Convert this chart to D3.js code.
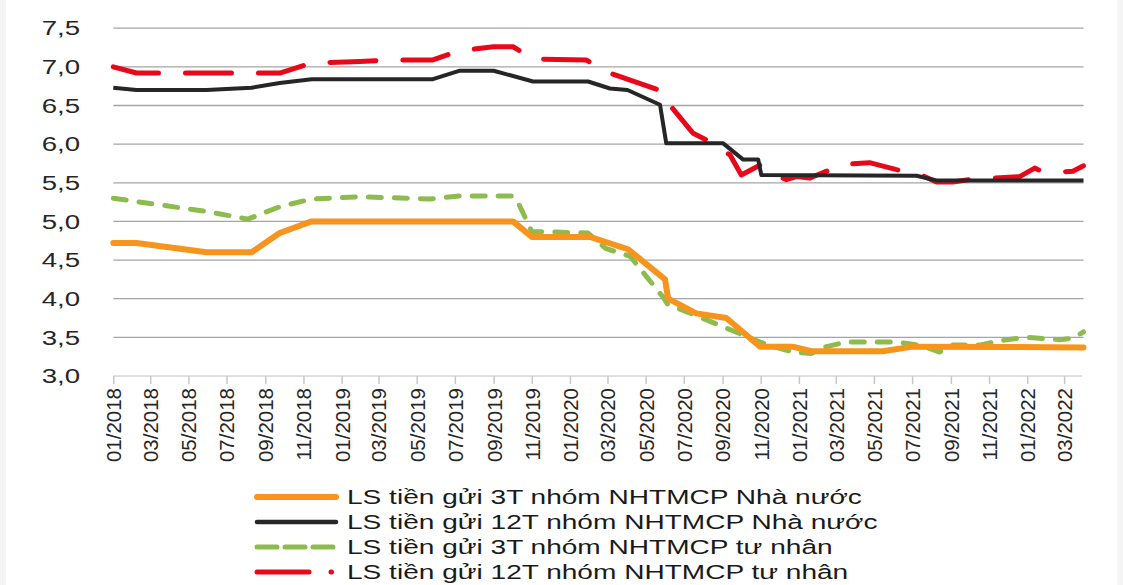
<!DOCTYPE html>
<html><head><meta charset="utf-8">
<script src="https://cdn.jsdelivr.net/npm/d3@7"></script>
<style>
html,body{margin:0;padding:0;background:#fff;}
svg{display:block;font-family:"Liberation Sans",Arial,sans-serif;}
</style></head>
<body>
<svg id="chart" width="1123" height="585"></svg>
<script>
// ---------------- DATA ----------------
const seriesNames = [
  "LS tiền gửi 3T nhóm NHTMCP Nhà nước",
  "LS tiền gửi 12T nhóm NHTMCP Nhà nước",
  "LS tiền gửi 3T nhóm NHTMCP tư nhân",
  "LS tiền gửi 12T nhóm NHTMCP tư nhân"
];
const state3Dates = ["2018-01-01","2018-02-07","2018-05-30","2018-08-10","2018-09-24","2018-11-14","2019-10-02","2019-11-01","2020-02-02","2020-04-03","2020-06-01","2020-06-06","2020-07-21","2020-09-07","2020-10-31","2020-12-22","2021-01-21","2021-05-15","2021-07-02","2022-04-01"];
const state3Values = [4.72,4.72,4.60,4.60,4.85,5.00,5.00,4.80,4.80,4.64,4.25,4.00,3.81,3.75,3.38,3.38,3.32,3.32,3.38,3.37];

const state12Dates = ["2018-01-01","2018-02-07","2018-05-30","2018-08-10","2018-09-24","2018-11-14","2019-05-27","2019-07-09","2019-09-01","2019-11-03","2020-01-30","2020-03-05","2020-04-02","2020-05-24","2020-06-03","2020-09-02","2020-10-04","2020-10-28","2020-11-02","2021-07-08","2021-08-09","2022-04-01"];
const state12Values = [6.73,6.70,6.70,6.73,6.79,6.84,6.84,6.95,6.95,6.81,6.81,6.72,6.70,6.51,6.01,6.01,5.80,5.80,5.60,5.59,5.53,5.53];

const private3Dates = ["2018-01-01","2018-03-11","2018-05-30","2018-08-04","2018-09-24","2018-11-14","2019-01-30","2019-05-22","2019-07-09","2019-09-30","2019-10-08","2019-11-01","2020-01-30","2020-02-27","2020-04-06","2020-05-30","2020-06-05","2020-07-21","2020-09-07","2020-10-31","2020-11-21","2020-12-23","2021-01-21","2021-02-14","2021-03-18","2021-06-06","2021-07-13","2021-08-14","2021-09-04","2021-10-17","2021-11-29","2021-12-31","2022-02-22","2022-03-15","2022-04-01"];
const private3Values = [5.30,5.22,5.13,5.03,5.19,5.29,5.32,5.29,5.33,5.33,5.28,4.87,4.85,4.65,4.55,4.01,3.93,3.78,3.62,3.44,3.38,3.31,3.29,3.38,3.44,3.44,3.40,3.31,3.40,3.40,3.47,3.50,3.47,3.49,3.57];

const private12Dates = ["2018-01-01","2018-02-07","2018-09-24","2018-11-14","2019-01-30","2019-03-22","2019-05-27","2019-07-09","2019-09-01","2019-10-02","2019-11-03","2020-01-27","2020-02-23","2020-05-29","2020-06-02","2020-07-16","2020-08-12","2020-09-13","2020-10-01","2020-10-31","2020-12-01","2020-12-12","2020-12-28","2021-01-18","2021-02-11","2021-03-18","2021-04-24","2021-06-06","2021-07-13","2021-08-09","2021-09-04","2021-10-01","2021-11-07","2021-12-20","2022-01-13","2022-01-21","2022-02-25","2022-03-15","2022-04-01"];
const private12Values = [7.00,6.92,6.92,7.05,7.07,7.09,7.09,7.21,7.26,7.26,7.10,7.09,6.95,6.68,6.57,6.14,6.03,5.86,5.60,5.73,5.58,5.54,5.58,5.56,5.64,5.74,5.76,5.67,5.61,5.51,5.51,5.54,5.56,5.58,5.69,5.66,5.64,5.65,5.72];

const yTickValues = [3.0,3.5,4.0,4.5,5.0,5.5,6.0,6.5,7.0,7.5];
const xDomain = ["2018-01-01","2022-04-01"];
const xTickStart = "2018-01-01", xTickEnd = "2022-03-02";

// ---------------- DRAW ----------------
const parse = d3.timeParse("%Y-%m-%d");
const svg = d3.select("#chart");
const W = 1123, H = 585;
const plot = {left:113.3, right:1083.5, top:28.2, bottom:376};

svg.append("rect").attr("width",W).attr("height",H).attr("fill","#fff");
svg.append("rect").attr("x",0).attr("y",0).attr("width",6).attr("height",H).attr("fill","#f4f4f4");
svg.append("rect").attr("x",1117).attr("y",0).attr("width",6).attr("height",H).attr("fill","#f4f4f4");

const x = d3.scaleTime().domain(xDomain.map(parse)).range([plot.left, plot.right]);
const y = d3.scaleLinear().domain([3,7.5]).range([plot.bottom, plot.top]);

// gridlines
svg.append("g").selectAll("line").data(yTickValues.filter(v=>v>3)).join("line")
  .attr("x1",plot.left).attr("x2",plot.right)
  .attr("y1",d=>y(d)).attr("y2",d=>y(d))
  .attr("stroke","#a5a5a5").attr("stroke-width",1.3);

// y labels (horizontally widened like the reference)
const fmt = d3.format(".1f");
svg.append("g").selectAll("text").data(yTickValues).join("text")
  .attr("transform",d=>`translate(80,${y(d)}) scale(1.38,1)`)
  .attr("dy","0.36em")
  .attr("text-anchor","end").attr("font-size",20).attr("fill","#262626")
  .text(d=>fmt(d).replace(".",","));

// x axis
const xTicks = d3.timeMonth.every(2).range(parse(xTickStart), parse(xTickEnd));
const xAxis = d3.axisBottom(x).tickValues(xTicks).tickSize(8).tickFormat(d3.timeFormat("%m/%Y"));
const gx = svg.append("g").attr("transform",`translate(0,${plot.bottom})`).call(xAxis);
gx.select(".domain").attr("stroke","#d4d4d4").attr("stroke-width",1.6)
  .attr("d",`M${plot.left},0H${plot.right-1.5}`);
gx.selectAll(".tick line").attr("stroke","#c8c8c8").attr("stroke-width",1.5);
gx.selectAll(".tick text")
  .attr("font-size",20.5).attr("fill","#262626").attr("font-family","'Liberation Sans',Arial,sans-serif")
  .attr("transform","rotate(-90)").attr("text-anchor","end")
  .attr("x",-12).attr("y",0).attr("dy","0.36em");

// series
const series = [
  {dates:state3Dates, values:state3Values, color:"#F7941D", width:6, dash:null, cap:"round"},
  {dates:state12Dates, values:state12Values, color:"#262626", width:4, dash:null, cap:"butt"},
  {dates:private3Dates, values:private3Values, color:"#8DBB4E", width:5, dash:"13,13", cap:"round"},
  {dates:private12Dates, values:private12Values, color:"#E8081A", width:5, dash:"46,27", cap:"round"}
];
const line = d3.line().x(d=>x(d[0])).y(d=>y(d[1]));
const drawOrder = [2,0,3,1];
drawOrder.forEach(i=>{
  const s = series[i];
  const pts = s.dates.map((d,k)=>[parse(d), s.values[k]]);
  svg.append("path").datum(pts).attr("d",line)
    .attr("fill","none").attr("stroke",s.color).attr("stroke-width",s.width)
    .attr("stroke-linejoin","round").attr("stroke-linecap",s.cap)
    .attr("stroke-dasharray",s.dash);
});

// legend
const leg = svg.append("g");
const legRowY = [497, 522, 547, 572];
const legDash = [null, null, "20,8", "52,22,0.5,40"];
const legTexts = [];
series.forEach((s,i)=>{
  leg.append("line").attr("x1",257).attr("x2",336).attr("y1",legRowY[i]).attr("y2",legRowY[i])
    .attr("stroke",s.color).attr("stroke-width",i===1?4.5:(i===0?6:5))
    .attr("stroke-linecap","round").attr("stroke-dasharray",legDash[i]);
  const t = leg.append("text").attr("x",0).attr("y",0).attr("dy","0.36em")
    .attr("font-size",19.5).attr("fill","#1a1a1a").text(seriesNames[i]);
  legTexts.push(t);
});
// widen legend text so first entry spans the same width as in the reference
const targetWidth = 515;
const natural = legTexts[0].node().getComputedTextLength();
const sx = targetWidth / natural;
legTexts.forEach((t,i)=>t.attr("transform",`translate(347,${legRowY[i]}) scale(${sx},1)`));
</script>
</body></html>
